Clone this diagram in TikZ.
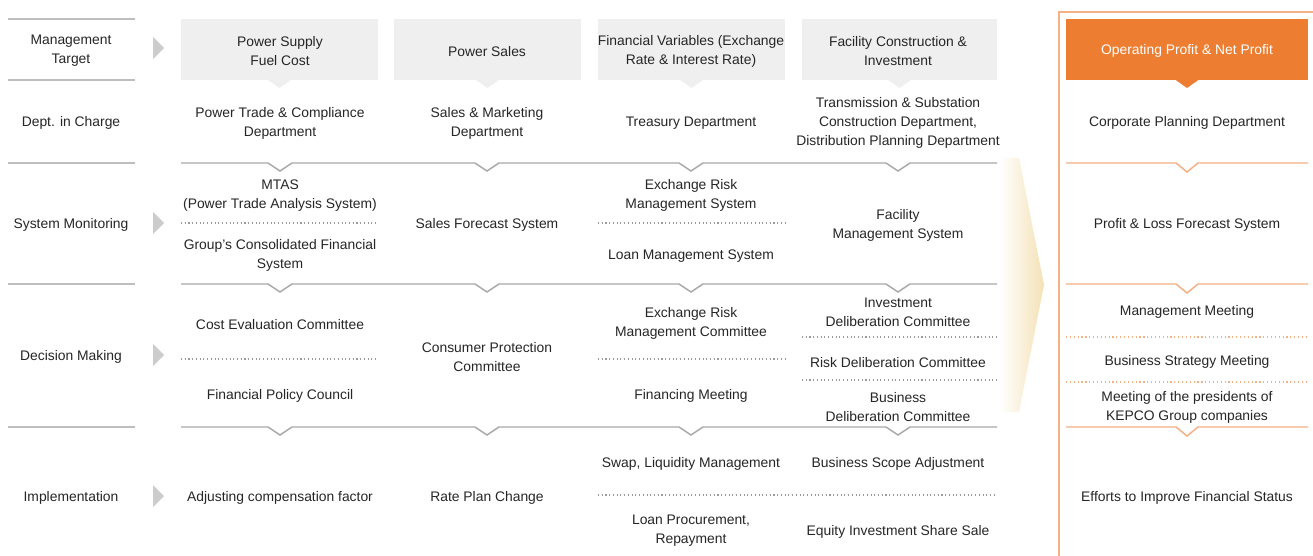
\documentclass[tikz,border=0pt]{standalone}
\usepackage{fontspec}
\setmainfont{Liberation Sans}
\definecolor{txt}{HTML}{262626}
\definecolor{hdr}{HTML}{EFEFEF}
\definecolor{rulec}{HTML}{A8A8A8}
\definecolor{lrulec}{HTML}{BEBEBE}
\definecolor{tric}{HTML}{CCCCCC}
\definecolor{dotc}{HTML}{9A9A9A}
\definecolor{org}{HTML}{ED7D31}
\definecolor{lorg}{HTML}{F4B183}
\definecolor{cream}{HTML}{F4E2B6}
\begin{document}
\begin{tikzpicture}[x=0.75pt,y=-0.75pt,
  every node/.style={font=\fontsize{10.4}{14.25}\selectfont,text=txt,align=center,inner sep=0pt,yshift=-1.6pt},
  rowrule/.style={draw=rulec,line width=1.1pt},
  leftrule/.style={draw=lrulec,line width=1.1pt},
  dotrule/.style={draw=dotc,line width=0.8pt,dotted},
  orule/.style={draw=lorg,line width=1.1pt},
  odot/.style={draw=lorg,line width=0.9pt,dotted},
  hdrbox/.style={fill=hdr,draw=none},
  rarrow/.style={fill=tric,draw=none}]
\useasboundingbox (0,0) rectangle (1313,556);
\fill[white] (0,0) rectangle (1313,556);

% big cream arrow
\shade[left color=white,right color=cream,draw=none]
  (1000,158) -- (1019,158) -- (1044,285) -- (1019,412) -- (1000,412) -- cycle;

% left column rules
\foreach \y in {19,80,163,284,427} \draw[leftrule] (8,\y) -- (135,\y);

% left labels
\node (l1) at (71,49) {Management\\Target};
\node (l2) at (71,121) {Dept. in Charge};
\node (l3) at (71,223) {System Monitoring};
\node (l4) at (71,355) {Decision Making};
\node (l5) at (71,496) {Implementation};

% gray right arrows
\foreach \y in {48,223,355,496} \fill[rarrow] (153,\y-11) -- (164,\y) -- (153,\y+11) -- cycle;

% headers
\foreach \a/\b in {181/378,394/581,598/785,802/997}{
  \fill[hdrbox] (\a,19) rectangle (\b,80);
  \fill[hdrbox] ({(\a+\b)/2-12},79.5) -- ({(\a+\b)/2},88) -- ({(\a+\b)/2+12},79.5) -- cycle;
}
\node (h1) at (280,49) {Power Supply\\Fuel Cost};
\node (h2) at (487,49) {Power Sales};
\node (h3) at (691,49) {Financial Variables (Exchange\\Rate \& Interest Rate)};
\node (h4) at (898,49) {Facility Construction \&\\Investment};

% row rules with notches
\foreach \y in {163,284,427}{
  \draw[rowrule] (181,\y) foreach \c in {280,487,691,898} {-- (\c-12,\y) -- (\c,\y+8) -- (\c+12,\y)} -- (997,\y);
}

% dotted separators
\draw[dotrule] (181,223) -- (378,223);
\draw[dotrule] (598,223) -- (785,223);
\draw[dotrule] (181,359) -- (378,359);
\draw[dotrule] (598,359) -- (785,359);
\draw[dotrule] (802,337) -- (997,337);
\draw[dotrule] (802,380) -- (997,380);
\draw[dotrule] (598,495) -- (997,495);

% column 1
\node (a2) at (280,121) {Power Trade \& Compliance\\Department};
\node (a3) at (280,193) {MTAS\\(Power Trade Analysis System)};
\node (a3b) at (280,253) {Group’s Consolidated Financial\\System};
\node (a4) at (280,322) {Cost Evaluation Committee};
\node (a4b) at (280,394) {Financial Policy Council};
\node (a5) at (280,496) {Adjusting compensation factor};

% column 2
\node (b2) at (487,121) {Sales \& Marketing\\Department};
\node (b3) at (487,223) {Sales Forecast System};
\node (b4) at (487,355) {Consumer Protection\\Committee};
\node (b5) at (487,496) {Rate Plan Change};

% column 3
\node (c2) at (691,121) {Treasury Department};
\node (c3) at (691,193) {Exchange Risk\\Management System};
\node (c3b) at (691,254) {Loan Management System};
\node (c4) at (691,321) {Exchange Risk\\Management Committee};
\node (c4b) at (691,394) {Financing Meeting};
\node (c5) at (691,462) {Swap, Liquidity Management};
\node (c5b) at (691,529) {Loan Procurement,\\Repayment};

% column 4
\node (d2) at (898,121) {Transmission \& Substation\\Construction Department,\\Distribution Planning Department};
\node (d3) at (898,223) {Facility\\Management System};
\node (d4) at (898,310) {Investment\\Deliberation Committee};
\node (d4b) at (898,360) {Risk Deliberation Committee};
\node (d4c) at (898,405) {Business\\Deliberation Committee};
\node (d5) at (898,462) {Business Scope Adjustment};
\node (d5b) at (898,530) {Equity Investment Share Sale};

% right panel frame
\draw[draw=lorg,line width=1.5pt] (1059,560) -- (1059,12) -- (1320,12);
\fill[org] (1066,19) rectangle (1308,80);
\fill[org] (1175,79.5) -- (1187,88) -- (1199,79.5) -- cycle;
\node[text=white] (r1) at (1187,49) {Operating Profit \& Net Profit};
\foreach \y in {163,284,427}{
  \draw[orule] (1066,\y) -- (1176,\y) -- (1187,\y+9) -- (1198,\y) -- (1308,\y);
}
\draw[odot] (1066,337) -- (1308,337);
\draw[odot] (1066,382) -- (1308,382);
\node (r2) at (1187,121) {Corporate Planning Department};
\node (r3) at (1187,223) {Profit \& Loss Forecast System};
\node (r4) at (1187,310) {Management Meeting};
\node (r4b) at (1187,360) {Business Strategy Meeting};
\node (r4c) at (1187,405) {Meeting of the presidents of\\KEPCO Group companies};
\node (r5) at (1187,496) {Efforts to Improve Financial Status};
\end{tikzpicture}
\end{document}
